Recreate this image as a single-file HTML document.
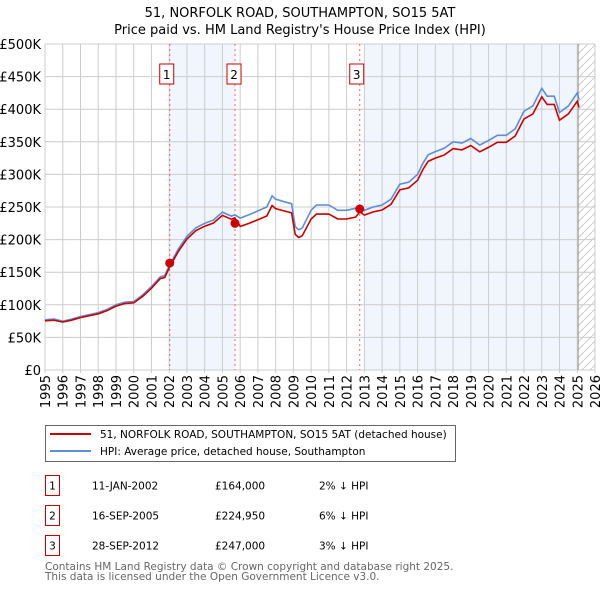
<!DOCTYPE html>
<html><head><meta charset="utf-8"><style>
body{margin:0;background:#fff;font-family:"Liberation Sans","DejaVu Sans",sans-serif;}
svg text{font-family:"DejaVu Sans","Liberation Sans",sans-serif;}
</style></head><body>
<svg id="c" width="600" height="590" xmlns="http://www.w3.org/2000/svg"></svg>
<script>
const years=[1995,1995.5,1996,1996.5,1997,1997.5,1998,1998.5,1999,1999.5,2000,2000.5,2001,2001.5,2001.75,2002,2002.5,2003,2003.5,2004,2004.5,2005,2005.5,2005.7,2006,2006.5,2007,2007.5,2007.8,2008,2008.5,2008.9,2009.1,2009.3,2009.5,2010,2010.3,2011,2011.5,2012,2012.5,2012.75,2013,2013.5,2014,2014.5,2015,2015.5,2016,2016.3,2016.6,2017,2017.5,2018,2018.5,2019,2019.5,2020,2020.5,2021,2021.5,2022,2022.5,2023,2023.3,2023.7,2024,2024.5,2025,2025.1];
const hpi=[77,78,75,78,82,85,88,93,100,104,105,115,128,143,145,160,185,205,218,225,230,242,236,238,233,238,244,250,267,262,258,255,220,215,218,245,253,253,245,245,248,250,245,250,253,262,285,288,300,317,330,335,340,350,348,355,345,352,360,360,370,397,405,432,420,420,395,405,425,415];
const saleYears=[2002.03,2005.71,2012.74];
const salePrices=[164,224.95,247];
const saleLabels=["1","2","3"];
const redFactors=[0.98,0.945,0.97];
const yTicks=[0,50,100,150,200,250,300,350,400,450,500];
const xTicks=[1995,1996,1997,1998,1999,2000,2001,2002,2003,2004,2005,2006,2007,2008,2009,2010,2011,2012,2013,2014,2015,2016,2017,2018,2019,2020,2021,2022,2023,2024,2025,2026];

const svg=document.getElementById('c');const NS='http://www.w3.org/2000/svg';
const L=45,R=595,T=44,B=370;
const X=y=>L+(y-1995)/(2026-1995)*(R-L);
const Y=v=>B-v/500*(B-T);
function el(t,a,p){const e=document.createElementNS(NS,t);for(const k in a)e.setAttribute(k,a[k]);(p||svg).appendChild(e);return e;}
function tx(x,y,s,a){const e=el('text',Object.assign({x:x,y:y,'font-size':13,fill:'#000'},a||{}));e.textContent=s;return e;}

let t=tx(300,17,'51, NORFOLK ROAD, SOUTHAMPTON, SO15 5AT',{'text-anchor':'middle'});

t=tx(300,34,"Price paid vs. HM Land Registry's House Price Index (HPI)",{'text-anchor':'middle'});


let s=el('rect',{x:X(saleYears[0]),y:T,width:X(saleYears[1])-X(saleYears[0]),height:B-T,fill:'#eef3fc',opacity:0.8});

s=el('rect',{x:X(2013),y:T,width:X(2025.05)-X(2013),height:B-T,fill:'#eef3fc',opacity:0.8});

const defs=el('defs',{});
const pat=el('pattern',{id:'h',width:8,height:8,patternUnits:'userSpaceOnUse'},defs);
el('path',{d:'M0,8 L8,0',stroke:'#ccc','stroke-width':1},pat);
s=el('rect',{x:X(2025.05),y:T,width:R-X(2025.05),height:B-T,fill:'url(#h)'});


yTicks.forEach(v=>{const g=el('line',{x1:L,x2:R,y1:Y(v),y2:Y(v),stroke:'#ccc'});

const lb=tx(L-4,Y(v)+5,v===0?'£0':'£'+v+'K',{'text-anchor':'end'});
});
xTicks.forEach(yr=>{const g=el('line',{x1:X(yr),x2:X(yr),y1:T,y2:B+3,stroke:'#ccc'});

const lb=tx(0,0,String(yr),{'text-anchor':'end',transform:`translate(${X(yr)+5},${B+5}) rotate(-90)`});
});
let ln=el('line',{x1:X(2025.05),x2:X(2025.05),y1:T,y2:B,stroke:'#999'});


saleYears.forEach((sy,i)=>{const v=el('line',{x1:X(sy),x2:X(sy),y1:T,y2:B,stroke:'#e66','stroke-dasharray':'2,3'});

const bx=el('rect',{x:X(sy)-7-(i===0?3:i===1?1:3),y:64,width:14,height:20,fill:'#fff',stroke:'#c00'});

const lb=tx(X(sy)-(i===0?3:i===1?1:3),79,saleLabels[i],{'text-anchor':'middle','font-size':12});
});

let dB='';years.forEach((yr,i)=>{dB+=(i?'L':'M')+X(yr).toFixed(1)+','+Y(hpi[i]).toFixed(1);});
let p=el('path',{d:dB,fill:'none',stroke:'#5b8fd6','stroke-width':1.6});

let dR='';years.forEach((yr,i)=>{let k=redFactors[0];if(yr>=saleYears[1])k=redFactors[1];if(yr>=saleYears[2])k=redFactors[2];
dR+=(i?'L':'M')+X(yr).toFixed(1)+','+Y(hpi[i]*k).toFixed(1);});
p=el('path',{d:dR,fill:'none',stroke:'#cc0000','stroke-width':1.6});

saleYears.forEach((sy,i)=>{const c=el('circle',{cx:X(sy),cy:Y(salePrices[i]),r:4.5,fill:'#cc0000'});
});

let lg=el('rect',{x:45.5,y:425.5,width:410,height:36,fill:'#fff',stroke:'#666'});

ln=el('line',{x1:50,x2:91,y1:434,y2:434,stroke:'#cc0000','stroke-width':2});

ln=el('line',{x1:50,x2:91,y1:451,y2:451,stroke:'#5b8fd6','stroke-width':2});

t=tx(100,438,'51, NORFOLK ROAD, SOUTHAMPTON, SO15 5AT (detached house)',{'font-size':10.5});

t=tx(100,455,'HPI: Average price, detached house, Southampton',{'font-size':10.5});


const dates=['11-JAN-2002','16-SEP-2005','28-SEP-2012'];
const prices=['£164,000','£224,950','£247,000'];
const pcts=['2% ↓ HPI','6% ↓ HPI','3% ↓ HPI'];
dates.forEach((d,i)=>{const y0=475+i*30;
const b=el('rect',{x:45.5,y:y0+0.5,width:14,height:20,fill:'#fff',stroke:'#c00'});

let q=tx(52.5,y0+14.5,String(i+1),{'text-anchor':'middle','font-size':10.5});
q=tx(92,y0+14.5,d,{'font-size':10.5});
q=tx(215,y0+14.5,prices[i],{'font-size':10.5});
q=tx(319,y0+14.5,pcts[i],{'font-size':10.5});});
t=tx(45,570,'Contains HM Land Registry data © Crown copyright and database right 2025.',{'font-size':10.5,fill:'#666'});

t=tx(45,580,'This data is licensed under the Open Government Licence v3.0.',{'font-size':10.5,fill:'#666'});

</script>
</body></html>
